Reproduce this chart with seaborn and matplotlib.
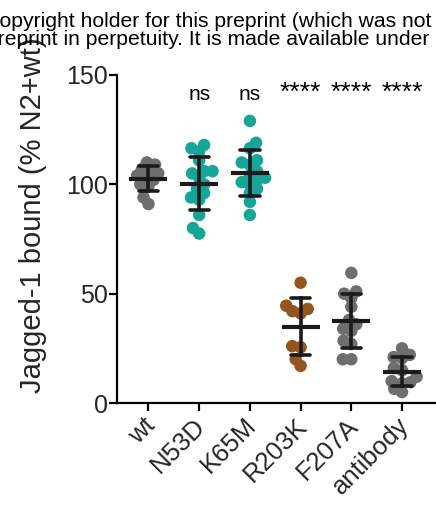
import numpy as np
import pandas as pd
import matplotlib
matplotlib.use("Agg")
import matplotlib.pyplot as plt
import matplotlib.transforms as mtransforms
import seaborn as sns

# ---- data ----
groups = ["wt", "N53D", "K65M", "R203K", "F207A", "antibody"]
wt_vals = [110, 109, 107, 106, 105, 104, 103, 102, 100, 99, 94, 91]
n53d_vals = [118, 116.5, 115, 111, 106, 106, 105, 103, 100, 98, 96, 94, 93, 86, 80, 77.5]
k65m_vals = [129, 119, 116.5, 109, 111, 110, 102, 106, 104, 103, 101, 100, 98, 96, 92, 86]
r203k_vals = [55, 44.5, 43, 42, 41, 26, 25.5, 20, 17]
f207a_vals = [59.5, 51, 50, 48, 44, 38, 36, 34, 33, 28.5, 27, 20, 20]
antibody_vals = [25, 22, 21, 20.5, 16, 15, 12, 10, 9.5, 9, 6.5, 5]
sig_labels = ["", "ns", "ns", "****", "****", "****"]
y_ticks = [0, 50, 100, 150]
header_line1 = "copyright holder for this preprint (which was not"
header_line2 = "preprint in perpetuity. It is made available under"
ylabel_text = "Jagged-1 bound (% N2+wt)"

GRAY = "#6e6e71"
TEAL = "#16a597"
BROWN = "#96541e"
colors = [GRAY, TEAL, TEAL, BROWN, GRAY, GRAY]

all_vals = [wt_vals, n53d_vals, k65m_vals, r203k_vals, f207a_vals, antibody_vals]
df = pd.DataFrame({
    "group": [g for g, v in zip(groups, all_vals) for _ in v],
    "value": [x for v in all_vals for x in v],
})

sns.set_style("ticks")
plt.rcParams["font.family"] = ["Liberation Sans", "DejaVu Sans"]

fig = plt.figure(figsize=(4.36, 5.11), dpi=100)
W, H = 436, 511
ax = fig.add_axes([117 / W, (H - 403) / H, 1 - 117 / W, (403 - 75) / H])

# compact swarm layout (computed with small markers), then drawn with
# larger, overlapping markers as in the reference
sns.swarmplot(data=df, x="group", y="value", hue="group", order=groups,
              hue_order=groups, palette=dict(zip(groups, colors)),
              size=5.8, legend=False, ax=ax, warn_thresh=1, linewidth=0)
ax.set_xlim(-0.62, 5.67)
ax.set_ylim(0, 150)
fig.canvas.draw()
for coll in ax.collections:
    if "draw" in coll.__dict__:
        del coll.draw
    coll.set_sizes([9.0 ** 2])
    coll.set_zorder(1)

n_before = len(ax.lines)
sns.pointplot(data=df, x="group", y="value", order=groups, errorbar="sd",
              capsize=0.38, color="#1c1a1b", linestyle="none", marker="_",
              markersize=27, markeredgewidth=3, err_kws={"linewidth": 2.6},
              ax=ax)
for ln in ax.lines[n_before:]:
    ln.set_zorder(3)

ax.set_xlim(-0.62, 5.67)
ax.set_ylim(0, 150)
ax.set_yticks(y_ticks)
ax.set_xlabel("")
ax.set_ylabel(ylabel_text, fontsize=21, ha="left")
ax.yaxis.set_label_coords((47 - 117) / (W - 117), (403 - 393) / 328)

for side in ["top", "right"]:
    ax.spines[side].set_visible(False)
for side in ["left", "bottom"]:
    ax.spines[side].set_linewidth(1.6)
    ax.spines[side].set_color("black")
ax.tick_params(axis="both", length=5.5, width=1.6, color="black", labelsize=18,
               pad=1)
ax.tick_params(axis="x", labelsize=18.5, pad=2)
offset = mtransforms.ScaledTranslation(-4 / 72, 0, fig.dpi_scale_trans)
for lbl in ax.get_xticklabels():
    lbl.set_rotation(45)
    lbl.set_ha("right")
    lbl.set_va("top")
    lbl.set_rotation_mode("anchor")
    lbl.set_transform(lbl.get_transform() + offset)

for i, s in enumerate(sig_labels):
    if s:
        fs = 15 if s == "ns" else 19
        ax.text(i, 138.5, s, ha="center", va="baseline", fontsize=fs,
                color="black")

fig.text(431 / W, 1 - 27 / H, header_line1, ha="right", va="baseline",
         fontsize=15.2, color="black")
fig.text(429 / W, 1 - 45 / H, header_line2, ha="right", va="baseline",
         fontsize=15.2, color="black")

fig.savefig("out.png", dpi=100)
